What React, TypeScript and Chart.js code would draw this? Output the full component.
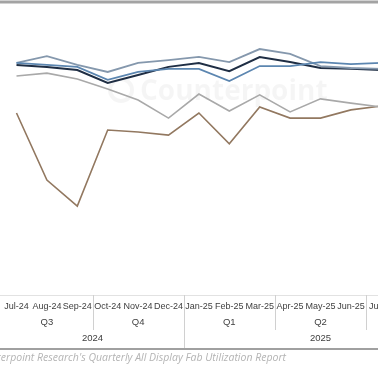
import React, { useEffect, useRef } from "react";
import { Chart, registerables } from "chart.js";

Chart.register(...registerables);

// ---- data ----
const months = [
  "Jul-24", "Aug-24", "Sep-24", "Oct-24", "Nov-24", "Dec-24",
  "Jan-25", "Feb-25", "Mar-25", "Apr-25", "May-25", "Jun-25",
  "Jul-25", "Aug-25", "Sep-25",
];
const quarterLabels = ["Q3", "Q4", "Q1", "Q2", "Q3"];
const quarterSpans = [3, 3, 3, 3, 3];
const yearLabels = ["2024", "2025"];
const yearSpans = [6, 9];

const seriesSteel = [81.3, 83.7, 80.6, 78.1, 81.3, 82.3, 83.4, 81.6, 86.2, 84.5, 80.2, 79.5, 79.2, null, null];
const seriesNavy = [80.6, 79.9, 78.8, 74.2, 77.0, 79.9, 81.3, 78.4, 83.4, 81.6, 79.5, 79.2, 78.8, null, null];
const seriesBlue = [81.3, 80.6, 79.9, 75.3, 78.1, 79.2, 79.2, 74.9, 80.2, 80.2, 81.6, 80.9, 81.3, null, null];
const seriesGray = [76.7, 77.7, 75.6, 72.1, 68.2, 61.8, 70.3, 64.3, 70.0, 64.0, 68.6, 67.1, 65.7, null, null];
const seriesOrange = [63.6, 39.9, 30.7, 57.6, 56.9, 55.8, 63.6, 52.7, 65.7, 61.8, 61.8, 64.7, 66.1, null, null];

const sourceText = "Source: Counterpoint Research's Quarterly All Display Fab Utilization Report";

const multiAxis = {
  id: "multiAxis",
  beforeDatasetsDraw(chart: any) {
    const ctx = chart.ctx;
    ctx.save();
    ctx.fillStyle = "rgba(0,0,0,0.04)";
    ctx.strokeStyle = "rgba(0,0,0,0.04)";
    ctx.lineWidth = 4;
    ctx.beginPath();
    ctx.arc(121, 90, 11, 0, Math.PI * 2);
    ctx.stroke();
    ctx.font = "bold 28px 'Open Sans'";
    ctx.textAlign = "left";
    ctx.textBaseline = "alphabetic";
    ctx.fillText("Counterpoint", 140, 100);
    ctx.restore();
  },
  afterDraw(chart: any) {
    const ctx = chart.ctx;
    const x = chart.scales.x;
    const step = x.getPixelForValue(1) - x.getPixelForValue(0);
    const edge = (i: number) => x.getPixelForValue(i) - step / 2;
    const b = chart.chartArea.bottom;
    const axisY = b + 2;
    ctx.save();
    // top frame line
    ctx.strokeStyle = "#a3a3a3";
    ctx.lineWidth = 3;
    ctx.beginPath();
    ctx.moveTo(0, 2);
    ctx.lineTo(chart.width, 2);
    ctx.stroke();
    // axis line
    ctx.strokeStyle = "#e2e2e2";
    ctx.lineWidth = 1;
    ctx.beginPath();
    ctx.moveTo(0, axisY + 0.5);
    ctx.lineTo(chart.width, axisY + 0.5);
    ctx.stroke();
    // month labels
    ctx.fillStyle = "#404040";
    ctx.font = "9px 'Liberation Sans', Arial";
    ctx.textAlign = "center";
    ctx.textBaseline = "middle";
    months.forEach((m, i) => ctx.fillText(m, x.getPixelForValue(i), b + 14));
    // quarters
    let idx = 0;
    const yearEdges: number[] = [];
    let acc = 0;
    yearSpans.forEach((s) => { acc += s; yearEdges.push(acc); });
    ctx.font = "9.5px 'Liberation Sans', Arial";
    quarterLabels.forEach((q, k) => {
      const s = quarterSpans[k];
      const c = (edge(idx) + edge(idx + s)) / 2;
      ctx.fillText(q, c, b + 29);
      idx += s;
      if (idx < months.length && !yearEdges.includes(idx)) {
        ctx.strokeStyle = "#d0d0d0";
        ctx.beginPath();
        ctx.moveTo(Math.round(edge(idx)) + 0.5, axisY);
        ctx.lineTo(Math.round(edge(idx)) + 0.5, b + 37);
        ctx.stroke();
      }
    });
    // years
    idx = 0;
    yearLabels.forEach((y, k) => {
      const s = yearSpans[k];
      const c = (edge(idx) + edge(idx + s)) / 2;
      ctx.fillText(y, c, b + 45);
      idx += s;
      if (idx < months.length) {
        ctx.strokeStyle = "#d0d0d0";
        ctx.beginPath();
        ctx.moveTo(Math.round(edge(idx)) + 0.5, axisY);
        ctx.lineTo(Math.round(edge(idx)) + 0.5, b + 55);
        ctx.stroke();
      }
    });
    // bottom line
    ctx.strokeStyle = "#a0a0a0";
    ctx.lineWidth = 2;
    ctx.beginPath();
    ctx.moveTo(0, b + 56);
    ctx.lineTo(chart.width, b + 56);
    ctx.stroke();
    // source
    ctx.fillStyle = "#b4b4b4";
    ctx.font = "italic 10.5px 'Open Sans'";
    ctx.textAlign = "right";
    ctx.fillText(sourceText, 286, b + 65);
    ctx.restore();
  },
};

export default function App() {
  const ref = useRef<HTMLCanvasElement | null>(null);
  useEffect(() => {
    document.body.style.margin = "0";
    const mk = (label: string, data: any[], color: string, w: number) => ({
      label, data, borderColor: color, backgroundColor: color, borderWidth: w,
      pointRadius: 0, tension: 0, fill: false,
    });
    const chart = new Chart(ref.current!, {
      type: "line",
      data: {
        labels: months,
        datasets: [
          mk("Gray", seriesGray, "#a9a9a9", 1.6),
          mk("Orange", seriesOrange, "#927860", 1.6),
          mk("Blue", seriesBlue, "#5c86b0", 1.8),
          mk("Steel", seriesSteel, "#8598ad", 1.8),
          mk("Navy", seriesNavy, "#1f2e44", 2),
        ],
      },
      options: {
        responsive: false,
        animation: false,
        layout: { padding: { left: 1.3, right: 2.7, top: 10, bottom: 85 } },
        plugins: { legend: { display: false }, tooltip: { enabled: false } },
        scales: {
          x: { display: false, offset: true },
          y: { display: false, min: 0, max: 100 },
        },
      },
      plugins: [multiAxis],
    });
    return () => chart.destroy();
  }, []);
  return (
    <div style={{ width: 378, height: 378, overflow: "hidden", position: "relative", background: "#fff" }}>
      <canvas ref={ref} width={460} height={378} style={{ display: "block" }} />
    </div>
  );
}
